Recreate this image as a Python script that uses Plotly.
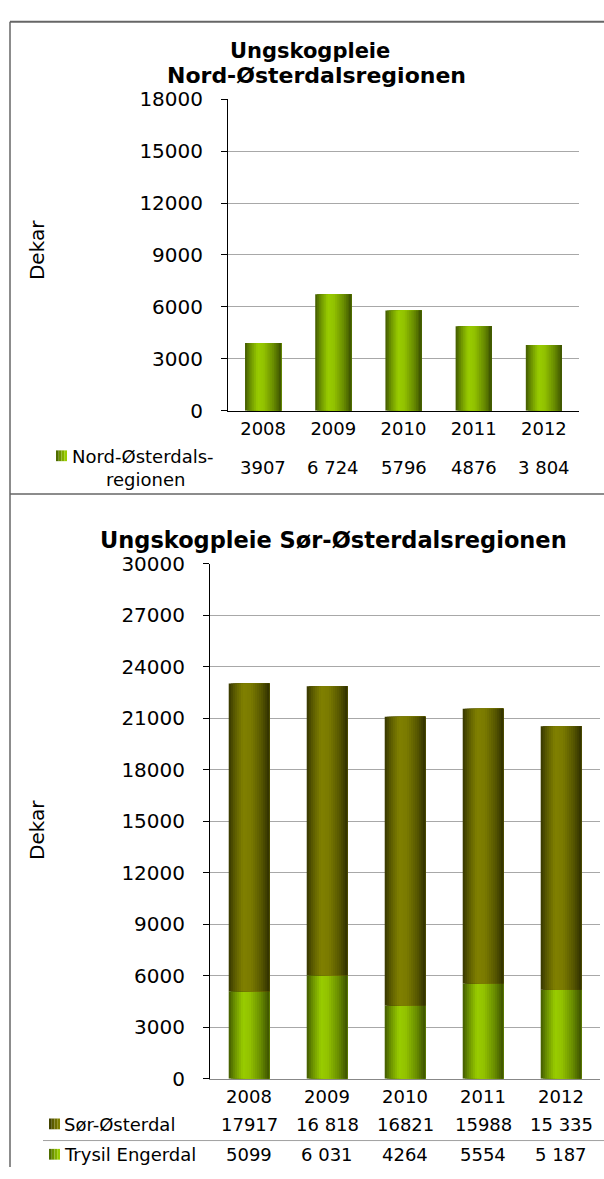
import plotly.graph_objects as go

# ---------------- data ----------------
years = ["2008", "2009", "2010", "2011", "2012"]
nord = [3907, 6724, 5796, 4876, 3804]
nord_labels = ["3907", "6 724", "5796", "4876", "3 804"]
sor = [17917, 16818, 16821, 15988, 15335]
sor_labels = ["17917", "16 818", "16821", "15988", "15 335"]
trysil = [5099, 6031, 4264, 5554, 5187]
trysil_labels = ["5099", "6 031", "4264", "5554", "5 187"]

title1 = ["Ungskogpleie", "Nord-Østerdalsregionen"]
title2 = "Ungskogpleie Sør-Østerdalsregionen"
ytitle = "Dekar"
name_nord = ["Nord-Østerdals-", "regionen"]
name_sor = "Sør-Østerdal"
name_trysil = "Trysil Engerdal"

y1_ticks = [0, 3000, 6000, 9000, 12000, 15000, 18000]
y2_ticks = [0, 3000, 6000, 9000, 12000, 15000, 18000, 21000, 24000, 27000, 30000]

# ---------------- styling helpers ----------------
W, H = 604, 1179
FONT = "DejaVu Sans"


def px(x):
    return x / W


def py(y):
    return 1 - y / H


GREEN = [(0.0, (0x42, 0x5a, 0x00)), (0.15, (0x6c, 0x92, 0x00)), (0.35, (0x99, 0xcc, 0x00)),
         (0.52, (0x92, 0xc2, 0x00)), (0.78, (0x6a, 0x8e, 0x00)), (1.0, (0x3c, 0x52, 0x00))]
OLIVE = [(0.0, (0x36, 0x36, 0x00)), (0.15, (0x5c, 0x5c, 0x00)), (0.35, (0x80, 0x80, 0x00)),
         (0.55, (0x7a, 0x7a, 0x00)), (0.8, (0x58, 0x58, 0x00)), (1.0, (0x30, 0x30, 0x00))]


def grad(stops, t):
    for (t0, c0), (t1, c1) in zip(stops, stops[1:]):
        if t0 <= t <= t1:
            f = (t - t0) / (t1 - t0) if t1 > t0 else 0
            c = [round(a + (b - a) * f) for a, b in zip(c0, c1)]
            return "rgb(%d,%d,%d)" % tuple(c)
    return "rgb(%d,%d,%d)" % stops[-1][1]


N = 20
fig = go.Figure()


def add_gradient_bars(x, y, base, bw, stops, xa, ya):
    for i in range(N):
        off = -bw / 2 + i * bw / N
        fig.add_trace(go.Bar(
            x=x, y=y, base=base, xaxis=xa, yaxis=ya,
            width=bw - i * bw / N, offset=off,
            marker=dict(color=grad(stops, (i + 0.5) / N), line=dict(width=0)),
            showlegend=False, hoverinfo="skip"))


add_gradient_bars(years, nord, [0] * len(nord), 0.515, GREEN, "x", "y")
add_gradient_bars(years, trysil, [0] * len(trysil), 0.52, GREEN, "x2", "y2")
add_gradient_bars(years, sor, trysil, 0.52, OLIVE, "x2", "y2")

tickfont_y = dict(family=FONT, size=20, color="black")
tickfont_x = dict(family=FONT, size=18, color="black")

fig.update_layout(
    width=W, height=H, margin=dict(l=0, r=0, t=0, b=0),
    paper_bgcolor="white", plot_bgcolor="white",
    barmode="overlay", showlegend=False,
    xaxis=dict(domain=[px(228), px(579)], type="category", range=[-0.5, 4.5], showline=True,
               linecolor="black", linewidth=1, ticks="", tickfont=tickfont_x, showgrid=False,
               anchor="y", ticklabelstandoff=2),
    yaxis=dict(domain=[py(407), py(89)], range=[0, 18000], tickvals=y1_ticks, tickformat="d",
               showline=True, linecolor="black", linewidth=1, ticks="outside", ticklen=6,
               tickcolor="black", tickfont=tickfont_y, showgrid=True, gridcolor="#a8a8a8",
               gridwidth=1, zeroline=False, anchor="x", ticklabelstandoff=14),
    xaxis2=dict(domain=[px(210), px(600)], type="category", range=[-0.5, 4.5], showline=True,
                linecolor="#888888", linewidth=1, ticks="", tickfont=tickfont_x, showgrid=False,
                anchor="y2", ticklabelstandoff=2),
    yaxis2=dict(domain=[py(1089), py(563)], range=[0, 30000], tickvals=y2_ticks, tickformat="d",
                showline=True, linecolor="black", linewidth=1, ticks="outside", ticklen=6,
                tickcolor="black", tickfont=tickfont_y, showgrid=True, gridcolor="#a8a8a8",
                gridwidth=1, zeroline=False, anchor="x2", ticklabelstandoff=14),
)

ann = []
tf1 = dict(family=FONT, size=21, color="black", weight="bold")
tf2 = dict(family=FONT, size=22, color="black", weight="bold")
ann.append(dict(text="<b>%s</b>" % title1[0], x=px(310), y=py(40), xref="paper", yref="paper",
                showarrow=False, font=tf1, xanchor="center", yanchor="middle"))
ann.append(dict(text="<b>%s</b>" % title1[1], x=px(316), y=py(65), xref="paper", yref="paper",
                showarrow=False, font=tf2, xanchor="center", yanchor="middle"))
ann.append(dict(text="<b>%s</b>" % title2, x=px(333), y=py(539), xref="paper", yref="paper",
                showarrow=False, font=dict(family=FONT, size=22.5, color="black", weight="bold"),
                xanchor="center", yanchor="middle"))
lf = dict(family=FONT, size=20, color="black")
for yy in (243, 835):
    ann.append(dict(text=ytitle, x=px(37), y=py(yy), xref="paper", yref="paper", textangle=-90,
                    showarrow=False, font=lf, xanchor="center", yanchor="middle"))

vf = dict(family=FONT, size=18, color="black")
# chart 1 table (x = category index on the category axis)
for i, lab in enumerate(nord_labels):
    ann.append(dict(text=lab, x=i, xref="x", y=py(465), yref="paper", showarrow=False,
                    font=vf, xanchor="center", yanchor="middle"))
ann.append(dict(text=name_nord[0], x=px(70), y=py(454), xref="paper", yref="paper",
                showarrow=False, font=vf, xanchor="left", yanchor="middle"))
ann.append(dict(text=name_nord[1], x=px(145), y=py(477), xref="paper", yref="paper",
                showarrow=False, font=vf, xanchor="center", yanchor="middle"))
# chart 2 table
for i, (a, b) in enumerate(zip(sor_labels, trysil_labels)):
    ann.append(dict(text=a, x=i, xref="x2", y=py(1136), yref="paper", showarrow=False,
                    font=vf, xanchor="center", yanchor="middle"))
    ann.append(dict(text=b, x=i, xref="x2", y=py(1166), yref="paper", showarrow=False,
                    font=vf, xanchor="center", yanchor="middle"))
ann.append(dict(text=name_sor, x=px(62), y=py(1136), xref="paper", yref="paper",
                showarrow=False, font=vf, xanchor="left", yanchor="middle"))
ann.append(dict(text=name_trysil, x=px(62), y=py(1166), xref="paper", yref="paper",
                showarrow=False, font=vf, xanchor="left", yanchor="middle"))
fig.update_layout(annotations=ann)

shapes = []
frame = "#666666"
shapes.append(dict(type="line", xref="paper", yref="paper", x0=px(10), x1=1, y0=py(10), y1=py(10),
                   line=dict(color=frame, width=2)))
shapes.append(dict(type="line", xref="paper", yref="paper", x0=px(10), x1=px(10), y0=py(10), y1=0,
                   line=dict(color=frame, width=1.5)))
shapes.append(dict(type="line", xref="paper", yref="paper", x0=px(10), x1=1, y0=py(492), y1=py(492),
                   line=dict(color=frame, width=1.5)))
shapes.append(dict(type="line", xref="paper", yref="paper", x0=px(43), x1=1, y0=py(1152), y1=py(1152),
                   line=dict(color="#a0a0a0", width=1)))


def legend_square(x0, yc, stops, size=11):
    k = 4
    for i in range(k):
        shapes.append(dict(type="rect", xref="paper", yref="paper",
                           x0=px(x0 + i * size / k), x1=px(x0 + (i + 1) * size / k),
                           y0=py(yc + size / 2), y1=py(yc - size / 2),
                           fillcolor=grad(stops, 0.05 + 0.3 * i / (k - 1)), line=dict(width=0)))


legend_square(56, 453, GREEN)
legend_square(49, 1135, OLIVE)
legend_square(49, 1166, GREEN)
fig.update_layout(shapes=shapes)

fig.write_html("out.html", config={"displayModeBar": False},
               post_script="document.body.style.margin='0';")
